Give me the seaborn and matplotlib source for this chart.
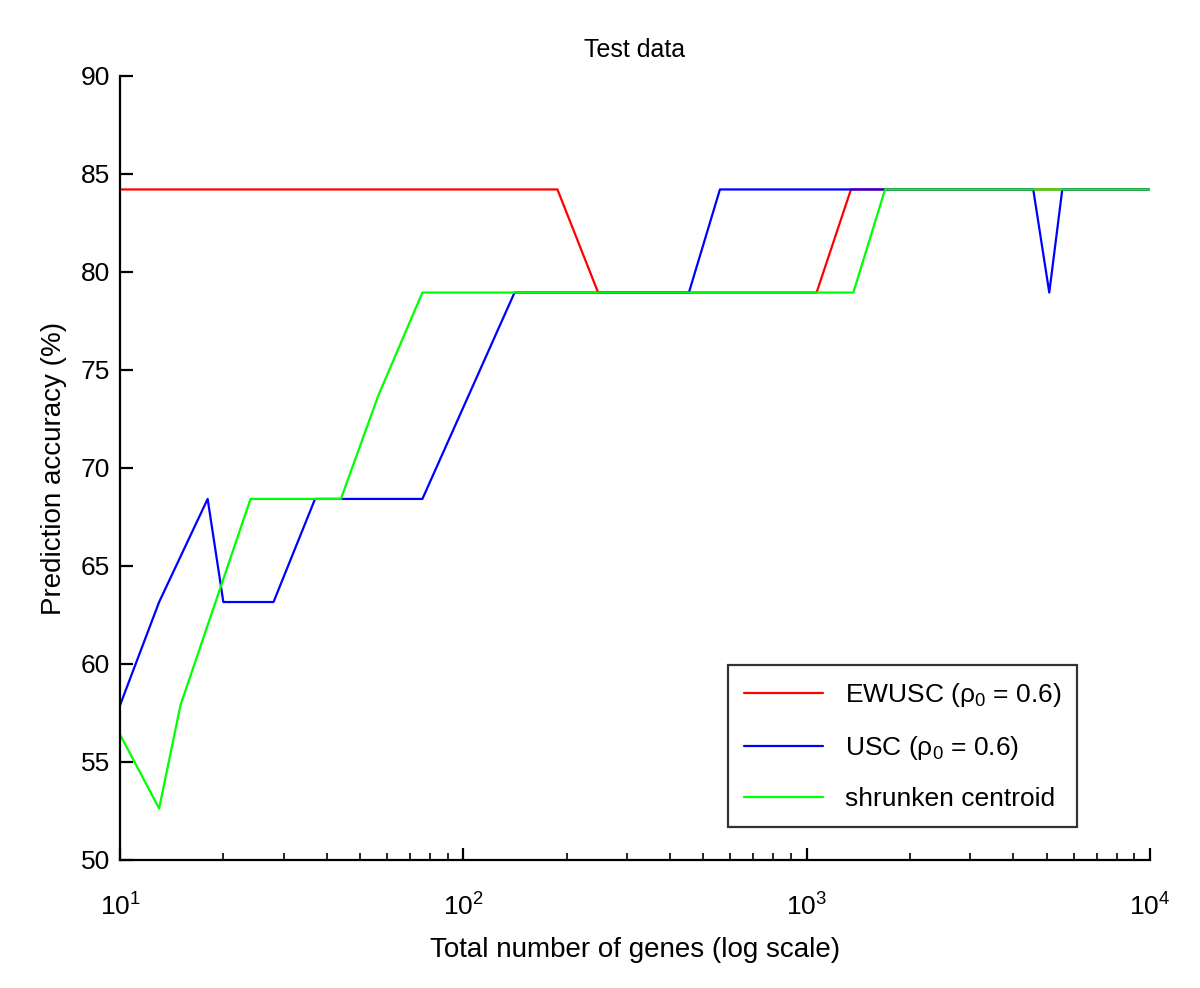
import numpy as np
import pandas as pd
import matplotlib
matplotlib.use("Agg")
import matplotlib.pyplot as plt
import seaborn as sns
from matplotlib.ticker import LogLocator, NullFormatter

# --- data (genes, accuracy %) ---
ewusc_genes = [10, 188, 247, 1069, 1346, 10000]
ewusc_acc = [84.21, 84.21, 78.95, 78.95, 84.21, 84.21]

usc_genes = [10, 13, 18, 20, 28, 37, 76, 141, 454, 559, 4571, 5090, 5554, 10000]
usc_acc = [57.89, 63.16, 68.42, 63.16, 63.16, 68.42, 68.42, 78.95, 78.95, 84.21,
           84.21, 78.95, 84.21, 84.21]

sc_genes = [10, 13, 15, 24, 44, 56.5, 76, 1368, 1692, 10000]
sc_acc = [56.4, 52.63, 57.89, 68.42, 68.42, 73.68, 78.95, 78.95, 84.21, 84.21]

labels = ["EWUSC (ρ$_0$ = 0.6)", "USC (ρ$_0$ = 0.6)", "shrunken centroid"]
colors = ["#ff0000", "#0000ff", "#00ff00"]

sns.set_style("ticks", {"text.color": "black", "axes.labelcolor": "black",
                        "xtick.color": "black", "ytick.color": "black",
                        "axes.edgecolor": "black"})
plt.rcParams["font.family"] = ["Liberation Sans", "DejaVu Sans"]
plt.rcParams["mathtext.fontset"] = "custom"
plt.rcParams["mathtext.rm"] = "Liberation Sans"
plt.rcParams["mathtext.it"] = "Liberation Sans"
plt.rcParams["mathtext.default"] = "rm"

fig = plt.figure(figsize=(12, 9.88), dpi=100)
ax = fig.add_axes([0.1, 0.1296, 0.8583, 0.7935])

series = [(ewusc_genes, ewusc_acc), (usc_genes, usc_acc), (sc_genes, sc_acc)]
for (g, a), lab, c in zip(series, labels, colors):
    df = pd.DataFrame({"genes": g, "acc": a})
    sns.lineplot(data=df, x="genes", y="acc", ax=ax, color=c, label=lab,
                 linewidth=1.6, sort=False, estimator=None)

ax.set_xscale("log")
ax.set_xlim(10, 10000)
ax.set_ylim(50, 90)
ax.set_yticks(np.arange(50, 91, 5))
ax.xaxis.set_minor_locator(LogLocator(base=10, subs=np.arange(2, 10)))
ax.xaxis.set_minor_formatter(NullFormatter())

for s in ["top", "right"]:
    ax.spines[s].set_visible(False)
for s in ["left", "bottom"]:
    ax.spines[s].set_linewidth(1.6)
ax.tick_params(axis="both", which="major", direction="in", length=9, width=1.6,
               labelsize=19)
ax.tick_params(axis="y", which="major", pad=7)
ax.tick_params(axis="x", which="major", pad=24)
ax.tick_params(axis="x", which="minor", direction="in", length=5, width=1.2)

ax.set_xlabel("Total number of genes (log scale)", fontsize=20, labelpad=12)
ax.set_ylabel("Prediction accuracy (%)", fontsize=20, labelpad=10)
ax.set_title("Test data", fontsize=18, pad=14)

leg = ax.legend(loc="lower right", bbox_to_anchor=(0.929, 0.042), fontsize=19,
                frameon=True, fancybox=False, edgecolor="black", borderaxespad=0,
                handlelength=3.0, labelspacing=0.95, borderpad=0.6)
leg.get_frame().set_linewidth(1.6)

fig.savefig("out.png", dpi=100, facecolor="white")
